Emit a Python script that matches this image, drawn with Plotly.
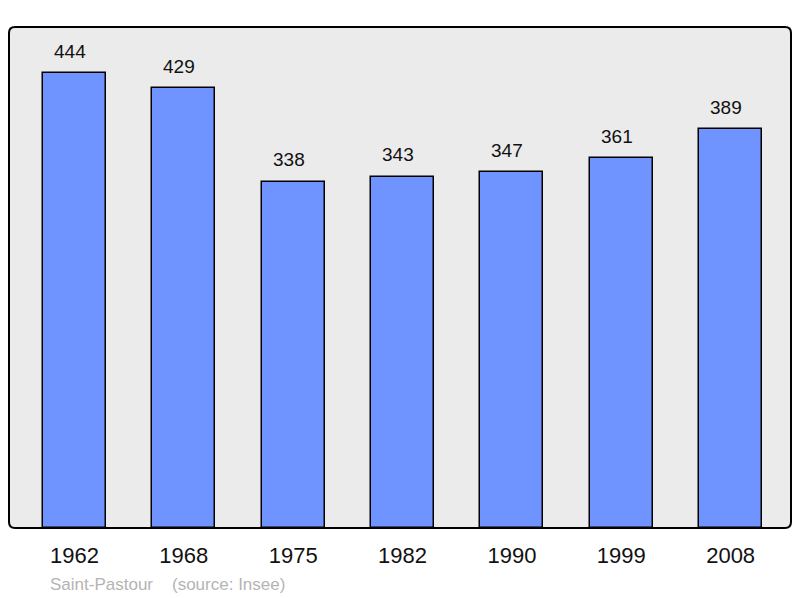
import plotly.graph_objects as go

years = ["1962", "1968", "1975", "1982", "1990", "1999", "2008"]
population = [444, 429, 338, 343, 347, 361, 389]
commune = "Saint-Pastour"
source = "(source: Insee)"

# page body has an 8px margin, so the figure is drawn 8px smaller/shifted
OFF = 8
W, H = 800 - OFF, 598 - OFF
L, R, T, B = 9 - OFF, 9, 27 - OFF, 70
FONT = "Liberation Sans, Arial, sans-serif"

xs = list(range(len(years)))

fig = go.Figure()
fig.add_trace(go.Bar(
    x=xs, y=population, width=0.576,
    marker=dict(color="#7094FF", line=dict(color="black", width=1.5)),
    hoverinfo="skip",
))

for xi, v in zip(xs, population):
    fig.add_annotation(x=xi, y=v, text=str(v), showarrow=False, yanchor="middle",
                       xshift=-4.5, yshift=22,
                       font=dict(size=19, color="#111111", family=FONT))

# rounded border around plot area (paper coords)
pw, ph = W - L - R, H - T - B
rx, ry = 6 / pw, 6 / ph
path = (f"M {rx},0 L {1-rx},0 Q 1,0 1,{ry} L 1,{1-ry} Q 1,1 {1-rx},1 "
        f"L {rx},1 Q 0,1 0,{1-ry} L 0,{ry} Q 0,0 {rx},0 Z")
fig.add_shape(type="path", path=path, xref="paper", yref="paper",
              line=dict(color="black", width=2), layer="above")

def px_to_paper(px, py):
    return (px - OFF - L) / pw, (H - B - (py - OFF)) / ph

for txt, sx in [(commune, 48), (source, 170)]:
    ax, ay = px_to_paper(sx, 584.5)
    fig.add_annotation(x=ax, y=ay, xref="paper", yref="paper", text=txt, showarrow=False,
                       xanchor="left", yanchor="middle",
                       font=dict(size=17, color="#B4B4B4", family=FONT))

fig.update_layout(
    width=W, height=H,
    margin=dict(l=L, r=R, t=T, b=B),
    paper_bgcolor="white",
    plot_bgcolor="#EBEBEB",
    showlegend=False,
    bargap=0,
    xaxis=dict(range=[-0.598, 6.552], tickvals=xs, ticktext=years, showgrid=False,
               zeroline=False, ticks="outside", ticklen=8, tickcolor="rgba(0,0,0,0)",
               tickfont=dict(size=22, color="#111111", family=FONT),
               fixedrange=True),
    yaxis=dict(range=[0, 489], showgrid=False, zeroline=False, showticklabels=False,
               fixedrange=True),
)

fig.write_html("out.html")
